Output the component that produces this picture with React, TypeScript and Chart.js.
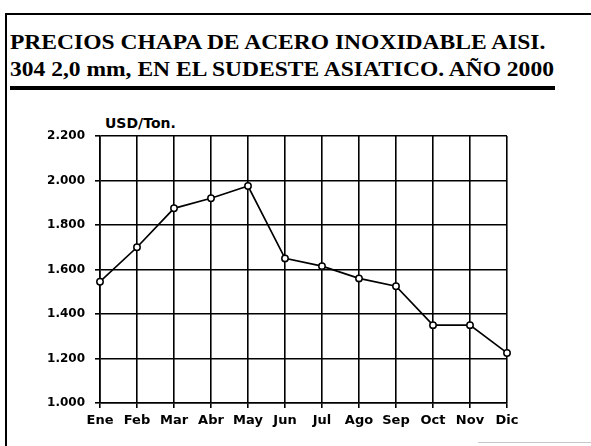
import { useEffect, useRef } from "react";
import { Chart, registerables } from "chart.js";

Chart.register(...registerables);

const titleLines = [
  "PRECIOS CHAPA DE ACERO INOXIDABLE AISI.",
  "304 2,0 mm, EN EL SUDESTE ASIATICO. AÑO 2000",
];
const unitLabel = "USD/Ton.";
const months = ["Ene", "Feb", "Mar", "Abr", "May", "Jun", "Jul", "Ago", "Sep", "Oct", "Nov", "Dic"];
const prices = [1545, 1700, 1875, 1920, 1975, 1650, 1615, 1560, 1525, 1350, 1350, 1225];
const yMin = 1000;
const yMax = 2200;
const yStep = 200;

function fmt(v: number): string {
  const th = Math.floor(v / 1000);
  const rest = String(Math.round(v % 1000)).padStart(3, "0");
  return `${th}.${rest}`;
}

export default function App() {
  const canvasRef = useRef<HTMLCanvasElement | null>(null);

  useEffect(() => {
    document.body.style.margin = "0";
    const canvas = canvasRef.current;
    if (!canvas) return;
    const chart = new Chart(canvas, {
      type: "line",
      data: {
        labels: months,
        datasets: [
          {
            data: prices,
            borderColor: "#000",
            borderWidth: 1.7,
            pointRadius: 3.2,
            pointBackgroundColor: "#fff",
            pointBorderColor: "#000",
            pointBorderWidth: 1.5,
            tension: 0,
          },
        ],
      },
      options: {
        animation: false,
        responsive: false,
        devicePixelRatio: 1,
        layout: { padding: { left: 0, right: 84, top: 36, bottom: 0 } },
        plugins: { legend: { display: false }, tooltip: { enabled: false }, title: { display: false } },
        scales: {
          x: {
            offset: false,
            grid: { color: "#000", lineWidth: 1.6, tickLength: 5, offset: false },
            border: { color: "#000", width: 1.6 },
            ticks: {
              color: "#000",
              padding: 5,
              maxRotation: 0,
              autoSkip: false,
              font: { family: "DejaVu Sans", weight: "bold", size: 13 },
            },
            afterFit: (axis: any) => {
              axis.height = 27;
            },
          },
          y: {
            min: yMin,
            max: yMax,
            grid: { color: "#000", lineWidth: 1.6, tickLength: 5 },
            border: { color: "#000", width: 1.6 },
            ticks: {
              stepSize: yStep,
              color: "#000",
              padding: 10,
              font: { family: "DejaVu Sans", weight: "bold", size: 12 },
              callback: (v: any) => fmt(Number(v)),
            },
            afterFit: (axis: any) => {
              axis.width = 100;
            },
          },
        },
      },
    });
    return () => chart.destroy();
  }, []);

  return (
    <div style={{ position: "absolute", left: 0, top: 0, width: 591, height: 446, background: "#fff", overflow: "hidden" }}>
      <div style={{ position: "absolute", left: 5, top: 13, width: 586, height: 2, background: "#000" }} />
      <div style={{ position: "absolute", left: 5, top: 13, width: 2, height: 433, background: "#000" }} />
      <div
        style={{
          position: "absolute",
          left: 10,
          top: 29,
          fontFamily: "'Liberation Serif', 'Times New Roman', serif",
          fontWeight: "bold",
          fontSize: 21,
          lineHeight: "27px",
          color: "#000",
          whiteSpace: "nowrap",
          transform: "scaleX(1.12)",
          transformOrigin: "0 0",
        }}
      >
        <div>{titleLines[0]}</div>
        <div>{titleLines[1]}</div>
      </div>
      <div style={{ position: "absolute", left: 10, top: 86, width: 545, height: 4, background: "#000" }} />
      <div
        style={{
          position: "absolute",
          left: 105,
          top: 115,
          fontFamily: "'DejaVu Sans', sans-serif",
          fontWeight: "bold",
          fontSize: 14,
          color: "#000",
          whiteSpace: "nowrap",
        }}
      >
        {unitLabel}
      </div>
      <div style={{ position: "absolute", left: 478, top: 442, width: 113, height: 1, background: "#c8c8c8" }} />
      <canvas ref={canvasRef} width={591} height={330} style={{ position: "absolute", left: 0, top: 100 }} />
    </div>
  );
}
